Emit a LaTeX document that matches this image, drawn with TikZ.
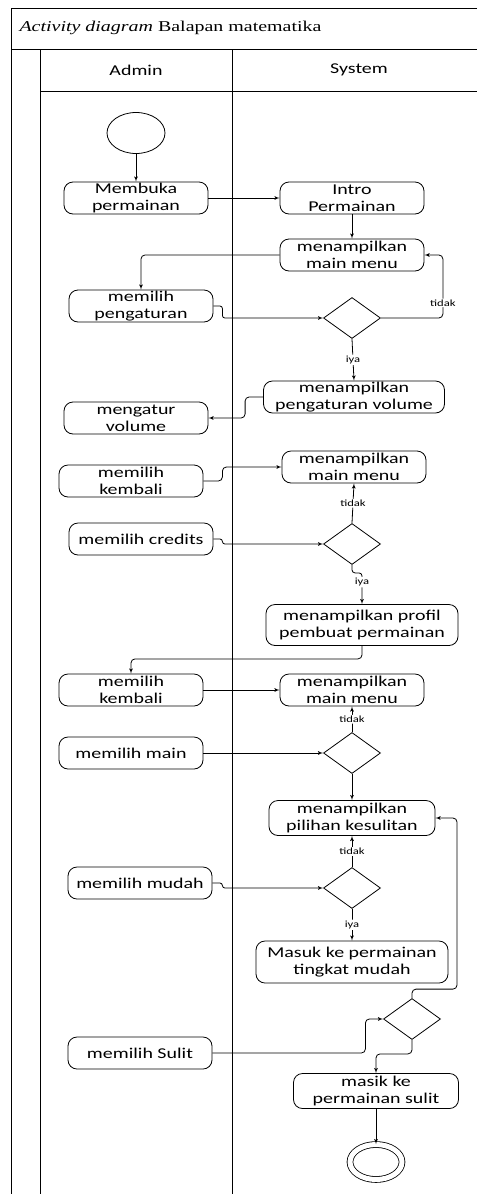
\documentclass[tikz,border=0pt]{standalone}
\usepackage{fontspec}
\setmainfont{Carlito}[FakeStretch=1.33]
\newfontfamily\titlefont{Liberation Serif}[FakeStretch=1.33]
\usepackage{tikz}
\usetikzlibrary{shapes,arrows}
\tikzstyle{lane} = [draw, line width=1pt]
\tikzstyle{block} = [rectangle, draw, line width=0.8pt, rounded corners=9pt,
    align=center, inner sep=0pt, minimum width=144pt, minimum height=32pt,
    font=\fontsize{15}{17}\selectfont]
\tikzstyle{decision} = [diamond, draw, line width=0.8pt, inner sep=0pt,
    minimum width=57pt, minimum height=41pt]
\tikzstyle{line} = [draw, line width=0.8pt, -latex', rounded corners=4pt]
\tikzstyle{guard} = [fill=white, inner sep=1pt, font=\fontsize{9.5}{11}\selectfont]

\begin{document}
\begin{tikzpicture}[x=1pt, y=-1pt, node distance = 216pt]
    \useasboundingbox (0,0) rectangle (477,1194);
    % Swimlanes
    \draw [lane] (477,8) -- (11,8) -- (11,1194);
    \draw [lane] (11,49) -- (477,49);
    \draw [lane] (40,49) -- (40,1194);
    \draw [lane] (232,49) -- (232,1194);
    \draw [lane] (40,91) -- (477,91);
    \node [anchor=west, font=\titlefont\fontsize{15}{17}\selectfont] (title) at (16,28)
        {\textit{Activity diagram} Balapan matematika};
    \node [font=\fontsize{15}{17}\selectfont] (admin) at (136,70) {Admin};
    \node [font=\fontsize{15}{17}\selectfont] (system) at (359,70) {System};
    % Place nodes
    \node [ellipse, draw, line width=0.8pt, minimum width=58pt, minimum height=41pt] (start) at (136,133) {};
    \node [block] (buka) at (136,198) {Membuka\\permainan};
    \node [block, right of=buka] (intro) {Intro\\Permainan};
    \node [block] (menu1) at (352,255) {menampilkan\\main menu};
    \node [block] (pengaturan) at (141,306) {memilih\\pengaturan};
    \node [decision] (cek1) at (352,318) {};
    \node [block, minimum width=181pt] (tampilvol) at (354,397) {menampilkan\\pengaturan volume};
    \node [block] (volume) at (136,418) {mengatur\\volume};
    \node [block] (menu2) at (354,467) {menampilkan\\main menu};
    \node [block] (kembali1) at (131,481) {memilih\\kembali};
    \node [block] (credits) at (141,539) {memilih credits};
    \node [decision] (cek2) at (352,544) {};
    \node [block, minimum width=192pt, minimum height=41pt] (profil) at (362,625) {menampilkan profil\\pembuat permainan};
    \node [block] (kembali2) at (131,690) {memilih\\kembali};
    \node [block, right of=kembali2, node distance=221pt] (menu3) {menampilkan\\main menu};
    \node [block] (main) at (131,753) {memilih main};
    \node [decision, right of=main, node distance=221pt] (cek3) {};
    \node [block, minimum width=166pt, minimum height=35pt] (kesulitan) at (352,818) {menampilkan\\pilihan kesulitan};
    \node [block] (mudah) at (140,883) {memilih mudah};
    \node [decision] (cek4) at (352,888) {};
    \node [block, minimum width=192pt, minimum height=42pt] (gamemudah) at (352,962) {Masuk ke permainan\\tingkat mudah};
    \node [decision] (cek5) at (412,1019) {};
    \node [block] (sulit) at (140,1053) {memilih Sulit};
    \node [block, minimum width=165pt, minimum height=35pt] (gamesulit) at (376,1091) {masik ke\\permainan sulit};
    \node [ellipse, draw, line width=0.8pt, double, double distance=5pt,
        minimum width=52pt, minimum height=35pt] (stop) at (376,1162) {};
    % Draw edges
    \path [line] (start) -- (buka);
    \path [line] (buka) -- (intro);
    \path [line] (intro) -- (menu1);
    \path [line] (menu1.west) -| (pengaturan.north);
    \path [line, rounded corners=2.5pt] (pengaturan.east) -- ++(9,0) |- (cek1.west);
    \path [line] (cek1.east) -- ++(62,0) |- node [guard, pos=0.12] {tidak} (menu1.east);
    \path [line] (cek1.south) -- node [guard] {iya} (tampilvol.north);
    \path [line] (tampilvol.west) -- ++(-18,0) |- (volume.east);
    \path [line] (kembali1.east) -- ++(19,0) |- (menu2.west);
    \path [line] (cek2.north) -- node [guard] {tidak} (menu2.south);
    \path [line, rounded corners=2.5pt] (credits.east) -- ++(9,0) |- (cek2.west);
    \path [line, rounded corners=3pt] (cek2.south) -- ++(0,8) -| node [guard, pos=0.65] {iya} (profil.north);
    \path [line] (profil.south) -- ++(0,13) -| (kembali2.north);
    \path [line] (kembali2) -- (menu3);
    \path [line] (cek3.north) -- node [guard] {tidak} (menu3.south);
    \path [line] (main) -- (cek3);
    \path [line] (cek3.south) -- (kesulitan.north);
    \path [line] (cek4.north) -- node [guard] {tidak} (kesulitan.south);
    \path [line, rounded corners=2.5pt] (mudah.east) -- ++(10,0) |- (cek4.west);
    \path [line] (cek4.south) -- node [guard] {iya} (gamemudah.north);
    \path [line] (cek5.north) -- ++(0,-9) -- ++(45,0) |- (kesulitan.east);
    \path [line] (sulit.east) -- ++(153,0) |- (cek5.west);
    \path [line] (cek5.south) -- ++(0,14) -| (gamesulit.north);
    \path [line] (gamesulit) -- (stop);
\end{tikzpicture}
\end{document}
